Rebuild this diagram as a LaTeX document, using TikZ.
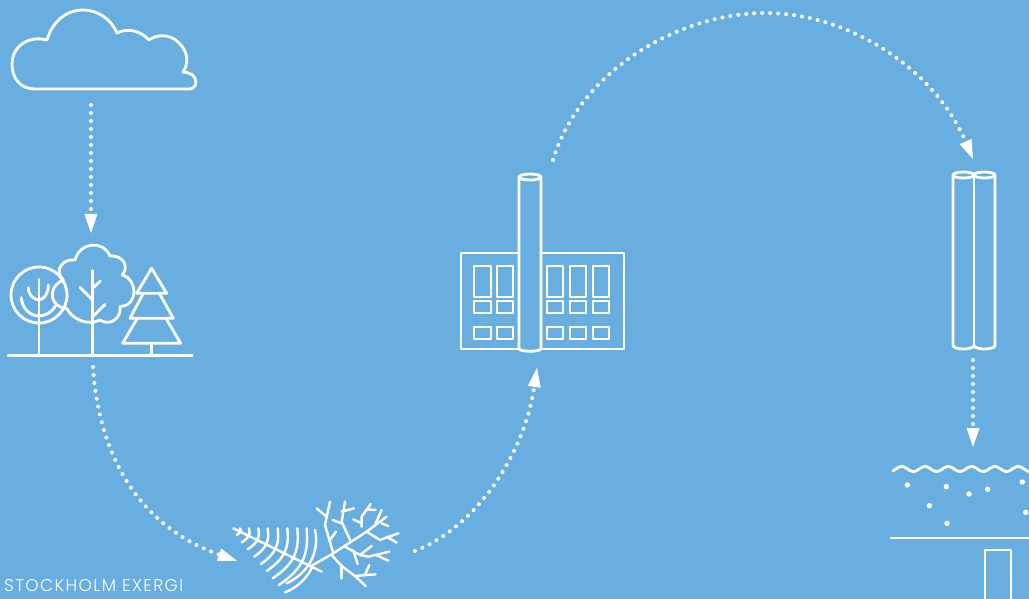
\documentclass[tikz,border=0pt]{standalone}
\usepackage{fontspec}
\setmainfont{Poppins}[UprightFont=* Light,LetterSpace=8]
\usetikzlibrary{arrows.meta}
\definecolor{skyblue}{HTML}{68AEE0}
\tikzset{
  icon/.style={draw=white,line width=2.8pt,line join=round,line cap=round},
  thinicon/.style={draw=white,line width=2.4pt,line join=round,line cap=round},
  dotflow/.style={draw=white,line width=4pt,line cap=round,dash pattern=on 0pt off 8pt,
    -{Triangle[length=19pt,width=13pt,line width=0pt,fill=white]}},
  speck/.style={fill=white,draw=none},
}
\begin{document}
\begin{tikzpicture}[x=1pt,y=-1pt]
\useasboundingbox (0,0) rectangle (1029,599);
\clip (0,0) rectangle (1029,599);
\fill[skyblue] (0,0) rectangle (1029,599);

% flow end points
\coordinate (cloudout) at (91,105);
\coordinate (treesin) at (91,233);
\coordinate (treesout) at (93,367);
\coordinate (fernin) at (237,561);
\coordinate (fernout) at (415,551);
\coordinate (plantin) at (537,368);
\coordinate (plantout) at (553,160);
\coordinate (pipesin) at (973,159);
\coordinate (pipesout) at (973,360);
\coordinate (waterin) at (973,447);

\draw[dotflow] (cloudout) -- (treesin);
\draw[dotflow] (treesout) .. controls (100,470) and (150,530) .. (fernin);
\draw[dotflow] (fernout) .. controls (480,525) and (525,450) .. (plantin);
\draw[dotflow] (plantout) .. controls (580,70) and (680,13) .. (765,13) .. controls (850,13) and (935,70) .. (pipesin);
\draw[dotflow] (pipesout) -- (waterin);

% cloud
\draw[icon] (35,89) .. controls (20,89) and (12,78) .. (12,64)
  .. controls (12,47) and (28,35) .. (47,40)
  .. controls (52,22) and (66,10) .. (83,10)
  .. controls (98,10) and (111,19) .. (117,33)
  .. controls (127,28) and (140,30) .. (149,40)
  .. controls (157,34) and (170,34) .. (178,42)
  .. controls (187,50) and (190,62) .. (183,72)
  .. controls (190,72) and (196,76) .. (196,82)
  .. controls (196,87) and (192,89) .. (189,89) -- cycle;

% trees (zoom coordinates)
\begin{scope}[shift={(0,210)},x=0.3333pt,y=-0.3333pt]
  \draw[icon] (24,437) -- (577,437);
  \draw[icon] (117,255) circle (84);
  \draw[icon] (117,208) -- (117,437);
  \draw[icon] (85,233) .. controls (85,255) and (100,268) .. (117,270) .. controls (133,268) and (145,250) .. (145,225);
  \draw[icon] (64,263) .. controls (66,295) and (90,318) .. (117,318) .. controls (135,318) and (155,308) .. (166,288);
  \draw[icon] (225,150) .. controls (240,95) and (310,90) .. (330,138)
    .. controls (365,135) and (390,165) .. (367,195)
    .. controls (410,205) and (420,285) .. (360,290)
    .. controls (365,325) and (330,350) .. (300,330)
    .. controls (260,350) and (215,325) .. (200,295)
    .. controls (155,295) and (135,235) .. (190,210)
    .. controls (160,180) and (190,145) .. (225,150) -- cycle;
  \draw[icon] (278,182) -- (278,437);
  \draw[icon] (240,232) -- (278,270);
  \draw[icon] (301,213) -- (278,235);
  \draw[icon] (315,283) -- (278,320);
  \draw[icon] (455,175) -- (410,250) -- (500,250) -- cycle;
  \draw[icon] (430,250) -- (390,325) -- (520,325) -- (478,250);
  \draw[icon] (412,325) -- (368,400) -- (542,400) -- (498,325);
  \draw[icon] (454,400) -- (454,437);
\end{scope}

% fern (zoom coordinates)
\begin{scope}[shift={(225,495)},x=0.3333pt,y=-0.3333pt]
  \draw[thinicon] (25,100) -- (290,230);
  \foreach \tx/\ex/\ey in {45/35/120,72/50/142,100/68/163,128/88/185,158/108/207,187/125/228,217/143/250,245/162/270}{
    \draw[thinicon] (\tx,100) .. controls ({\tx+6},{100+.45*(\ey-100)}) and ({\tx-.1*(\tx-\ex)},{\ey-.3*(\ey-100)}) .. (\ex,\ey);
  }
  \draw[thinicon] (270,105) .. controls (285,170) and (250,235) .. (185,265);
  \draw[thinicon] (180,292) .. controls (215,280) and (250,245) .. (262,215);
\end{scope}

% twig (zoom coordinates)
\begin{scope}[shift={(210,490)},x=0.3333pt,y=-0.3333pt]
  \draw[thinicon] (304,228) -- (370,190) -- (470,125) -- (530,80);
  \draw[thinicon] (370,190) -- (345,105) -- (360,35);
  \draw[thinicon] (320,55) -- (350,80);
  \draw[thinicon] (360,150) -- (378,125);
  \draw[thinicon] (420,150) -- (395,95) -- (405,35);
  \draw[thinicon] (395,65) -- (432,55);
  \draw[thinicon] (395,100) -- (368,90);
  \draw[thinicon] (455,110) -- (455,80) -- (482,42);
  \draw[thinicon] (470,58) -- (497,60);
  \draw[thinicon] (455,100) -- (430,88);
  \draw[thinicon] (497,100) -- (515,60);
  \draw[thinicon] (515,100) -- (535,108);
  \draw[thinicon] (470,125) -- (510,150) -- (565,130);
  \draw[thinicon] (530,140) -- (560,158);
  \draw[thinicon] (405,170) -- (450,195) -- (485,168);
  \draw[thinicon] (430,182) -- (443,222);
  \draw[thinicon] (450,195) -- (475,200) -- (538,185);
  \draw[thinicon] (498,195) -- (535,212);
  \draw[thinicon] (365,195) -- (395,228) -- (435,258) -- (497,253);
  \draw[thinicon] (395,225) -- (395,265);
  \draw[thinicon] (435,258) -- (467,288);
  \draw[thinicon] (465,255) -- (478,225);
\end{scope}

% power plant
\draw[icon] (519,253) -- (461,253) -- (461,349) -- (519,349);
\draw[icon] (541,253) -- (624,253) -- (624,349) -- (541,349);
\draw[icon] (519,177) -- (519,349) .. controls (522,352) and (538,352) .. (541,349) -- (541,177);
\draw[icon] (530,177) ellipse (11 and 3);
\foreach \xa/\xb in {474/491,497/513,547/563,570/586,593/609}{
  \draw[icon] (\xa,266) rectangle (\xb,297);
  \draw[icon] (\xa,301) rectangle (\xb,313);
  \draw[icon] (\xa,327) rectangle (\xb,339);
}

% pipes
\draw[icon] (953,175) -- (953,346) .. controls (956,350) and (971,350) .. (974,346) .. controls (977,350) and (992,350) .. (995,346) -- (995,175);
\draw[icon] (974,175) -- (974,346);
\draw[icon] (963.5,175) ellipse (10.5 and 3);
\draw[icon] (984.5,175) ellipse (10.5 and 3);

% water
\draw[icon] plot[domain=893:1032,samples=120,smooth] (\x,{469-2.5*cos(15.45*(\x-901.7))});
\foreach \px/\py in {82/165,199/170,267/192,323/178,427/156,148/227,201/280,437/247}{
  \fill[speck] ({880+\px/3},{430+\py/3}) circle (2.7);
}
\draw[icon] (891,538) -- (1032,538);
\draw[icon] (985,605) -- (985,550) -- (1011,550) -- (1011,605);

\node[anchor=base west,inner sep=0pt,text=white,font=\fontsize{17}{19}\selectfont] (credit) at (4,591) {STOCKHOLM EXERGI};
\end{tikzpicture}
\end{document}
